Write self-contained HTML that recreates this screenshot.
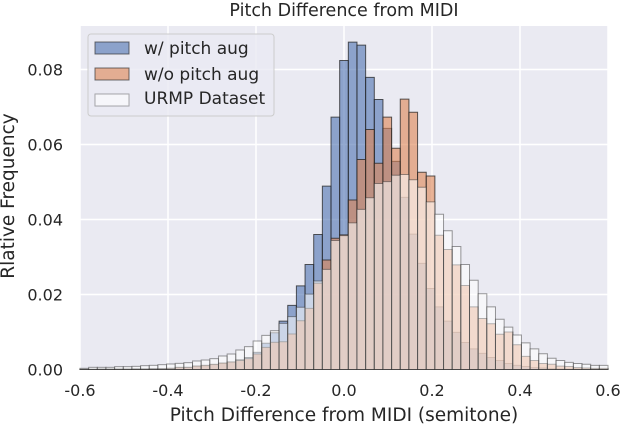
<!DOCTYPE html>
<html><head><meta charset="utf-8">
<style>
body{margin:0;background:#fff;}
svg text{font-family:"DejaVu Sans","Liberation Sans",sans-serif;fill:#262626;}
</style></head>
<body>
<svg id="chart" width="622" height="424" xmlns="http://www.w3.org/2000/svg">
<rect x="80" y="26" width="528" height="344" fill="#eaeaf2"/>
<g id="grid"></g>
<g id="bars"></g>
<g id="ticks"></g>
<text x="344" y="16" text-anchor="middle" font-size="17.5">Pitch Difference from MIDI</text>
<text x="344" y="421" text-anchor="middle" font-size="18.5">Pitch Difference from MIDI (semitone)</text>
<text transform="translate(14,196) rotate(-90)" text-anchor="middle" font-size="18.5">Rlative Frequency</text>
<g>
<rect x="88" y="34" width="186" height="82" rx="3" fill="#eaeaf2" fill-opacity="0.8" stroke="#cccccc"/>
<rect x="95" y="42" width="34" height="12" fill="#4c72b0" fill-opacity="0.6" stroke="#333" stroke-opacity="0.7"/>
<text x="144" y="54" font-size="17">w/ pitch aug</text>
<rect x="95" y="68" width="34" height="12" fill="#dd8452" fill-opacity="0.6" stroke="#333" stroke-opacity="0.7"/>
<text x="144" y="80" font-size="17">w/o pitch aug</text>
<rect x="95" y="94" width="34" height="12" fill="#ffffff" fill-opacity="0.55" stroke="#333" stroke-opacity="0.4"/>
<text x="144" y="104" font-size="17">URMP Dataset</text>
</g>
</svg>
<script>
const xTicks = [-0.6,-0.4,-0.2,0.0,0.2,0.4,0.6];
const xTickLabels = ["-0.6","-0.4","-0.2","0.0","0.2","0.4","0.6"];
const yTicks = [0,0.02,0.04,0.06,0.08];
const yTickLabels = ["0.00","0.02","0.04","0.06","0.08"];
const binMin = -0.6, binMax = 0.6;
// values in thousandths (x1e-3), 61 bins
const urmp = [0.31,0.58,0.58,0.58,0.76,0.76,0.84,1.02,1.11,1.29,1.47,1.64,1.82,2.27,2.53,2.89,3.6,4.13,5.2,6.09,7.6,9.1,10.35,12.3,14.1,16.6,20.1,23.6,26.7,34.4,35.7,39.1,42.7,45.8,49.6,50.1,51.8,52.0,50.6,48.6,44.7,41.4,37.0,32.8,28.0,23.8,20.2,16.7,13.4,11.3,9.2,7.1,5.5,4.2,3.0,2.4,1.9,1.6,1.4,1.1,1.1];
const withAug = [0.05,0.05,0.1,0.1,0.1,0.1,0.15,0.15,0.2,0.2,0.3,0.5,0.55,0.85,1.0,1.3,1.6,2.0,2.6,3.2,4.58,7.0,9.8,12.9,17.1,22.3,28.0,36.0,48.9,67.3,82.4,87.3,86.5,77.9,72.0,64.3,55.5,45.9,36.1,28.3,21.6,16.7,12.9,9.9,7.2,5.5,4.3,3.2,2.4,1.6,1.1,0.8,0.5,0.4,0.2,0.15,0.1,0.1,0.05,0.05,0.05];
const withoutAug = [0.05,0.05,0.1,0.1,0.1,0.1,0.15,0.15,0.2,0.25,0.31,0.58,0.58,0.93,1.11,1.38,1.73,2.0,2.4,2.9,4.13,5.9,7.25,7.4,9.47,13.0,16.3,23.0,29.2,35.0,35.9,45.2,56.0,64.0,55.0,67.3,59.0,72.1,68.6,52.6,51.6,35.8,32.0,27.9,22.4,16.7,13.6,12.2,9.4,10.0,6.6,3.5,2.4,1.6,1.4,0.9,0.8,0.5,0.4,0.3,0.3];

const NS="http://www.w3.org/2000/svg";
const X0=80,X1=608,Y0=369.5,YPX=3750;
function xScale(v){return X0+(v-binMin)/(binMax-binMin)*(X1-X0);}
function yScale(v){return Y0-v*YPX;}
function mk(tag,attrs,parent){const e=document.createElementNS(NS,tag);for(const k in attrs)e.setAttribute(k,attrs[k]);parent.appendChild(e);return e;}
const grid=document.getElementById('grid'),bars=document.getElementById('bars'),ticks=document.getElementById('ticks');
xTicks.forEach((t,i)=>{
  const x=xScale(t);
  const l=mk('line',{x1:x,x2:x,y1:26,y2:370,stroke:'#fff','stroke-width':1.5},grid);
  
  
  const tx=mk('text',{x:x,y:396,'text-anchor':'middle','font-size':16},ticks);
  tx.textContent=xTickLabels[i];
  
  
});
yTicks.forEach((t,i)=>{
  const y=yScale(t);
  const l=mk('line',{x1:80,x2:608,y1:y,y2:y,stroke:'#fff','stroke-width':1.5},grid);
  
  
  const tx=mk('text',{x:63,y:y+6,'text-anchor':'end','font-size':16},ticks);
  tx.textContent=yTickLabels[i];
  
  
});
function drawSeries(arr,fill,op,strokeOp,name){
  const n=arr.length,w=(binMax-binMin)/n;
  arr.forEach((v,i)=>{
    const xa=xScale(binMin+i*w),xb=xScale(binMin+(i+1)*w);
    const y=yScale(v/1000);
    const r=mk('rect',{x:xa,y:y,width:xb-xa,height:Y0-y,fill:fill,'fill-opacity':op,stroke:'#222','stroke-opacity':strokeOp,'stroke-width':1},bars);
    
    
  });
}
drawSeries(withAug,'#4c72b0',0.6,0.75,'bar-with-pitch-aug');
drawSeries(withoutAug,'#dd8452',0.6,0.75,'bar-without-pitch-aug');
drawSeries(urmp,'#ffffff',0.55,0.45,'bar-urmp-dataset');
</script>
</body></html>
